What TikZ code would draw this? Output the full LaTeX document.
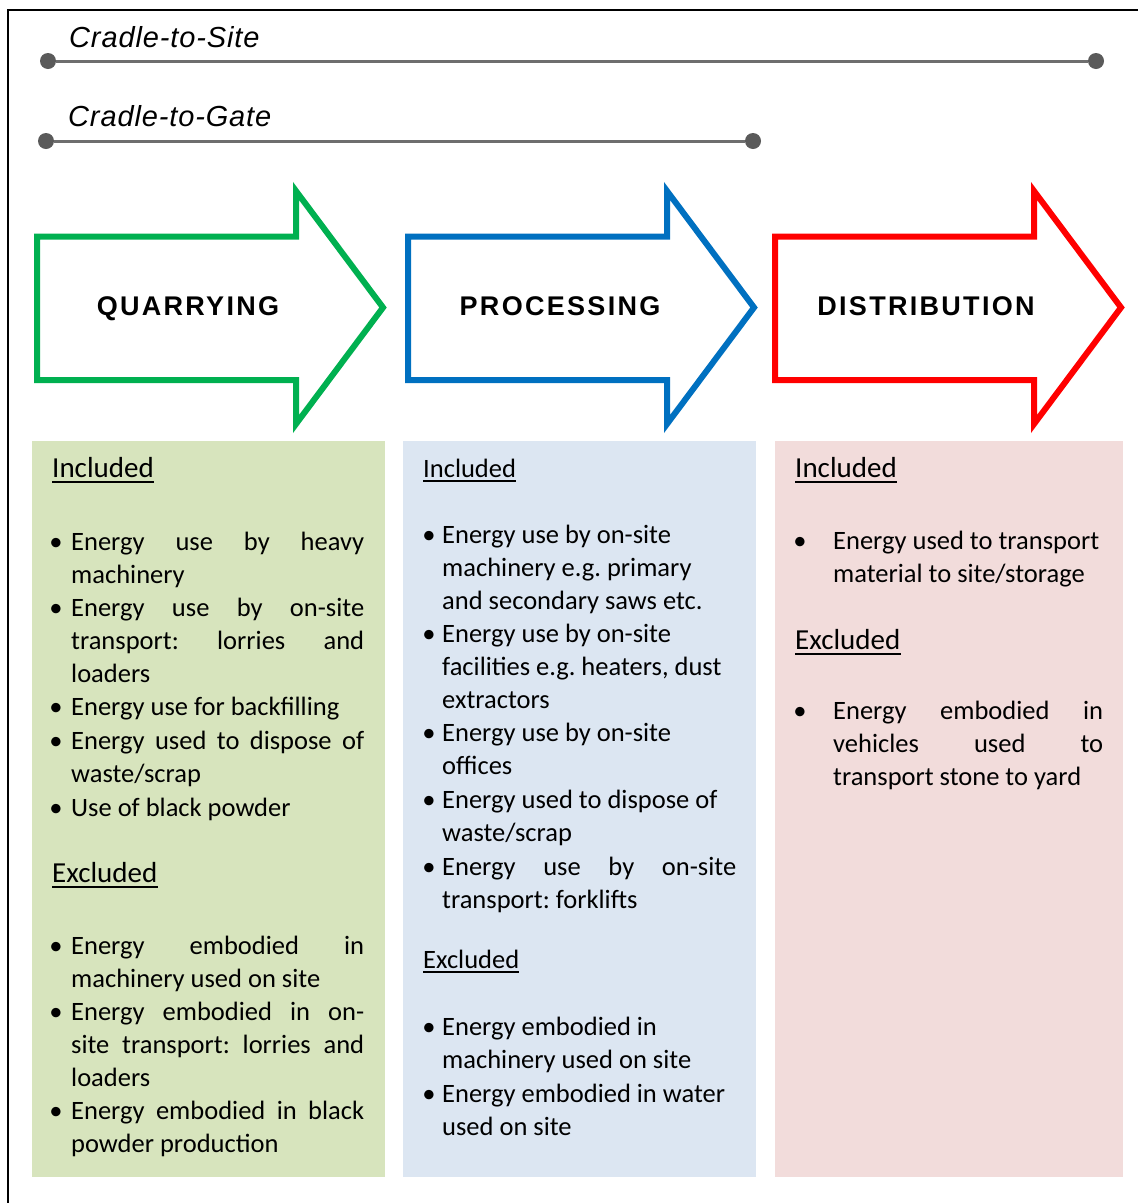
\documentclass[tikz,border=0pt]{standalone}
\usepackage{fontspec}
\setmainfont{Carlito}
\newfontfamily\labfont[LetterSpace=8.5]{Liberation Sans}
\newfontfamily\cradfont[LetterSpace=3]{Liberation Sans Italic}
\usetikzlibrary{calc}
\frenchspacing
\definecolor{qgreen}{HTML}{00B050}
\definecolor{pblue}{HTML}{0070C0}
\definecolor{dred}{HTML}{FF0000}
\definecolor{gpanel}{HTML}{D7E4BD}
\definecolor{bpanel}{HTML}{DCE6F2}
\definecolor{rpanel}{HTML}{F2DCDB}
\definecolor{spanline}{HTML}{6E6E6E}
\definecolor{dotgray}{HTML}{5A5A5A}
\newcommand\J[2]{\hbox to #1pt{#2}}
\newcommand\R[1]{\hbox{#1}}
\newcommand\Lns[1]{\vtop{\baselineskip=33pt\lineskiplimit=-100pt\relax#1}}
\begin{document}
\begin{tikzpicture}[x=1pt,y=-1pt,
  body/.style={font=\fontsize{26.5}{33}\selectfont, inner sep=0pt, anchor=base west},
  bul/.style={font=\fontsize{26.5}{33}\selectfont, inner sep=0pt, anchor=base},
  headA/.style={font=\fontsize{29}{33}\selectfont, inner sep=0pt, anchor=base west},
  headB/.style={font=\fontsize{26.5}{33}\selectfont, inner sep=0pt, anchor=base west},
  uline/.style={line width=2pt},
  stage/.style={line width=6pt, line join=miter, miter limit=10, fill=white},
  stagelabel/.style={font=\labfont\bfseries\fontsize{27}{30}\selectfont, anchor=base, inner sep=0pt},
  span/.style={line width=3pt, draw=spanline},
  dot/.style={circle, fill=dotgray, minimum size=16pt, inner sep=0pt},
  crad/.style={font=\cradfont\fontsize{29}{32}\selectfont, anchor=base west, inner sep=0pt}
]
\useasboundingbox (0,0) rectangle (1138,1203);
\fill[white] (0,0) rectangle (1138,1203);
% outer frame
\draw[line width=2pt] (8,1210) -- (8,10) -- (1145,10);

% spans
\node[crad] (cts) at (69,47.5) {Cradle-to-Site};
\node[dot] (s1) at (48,61) {};
\node[dot] (s2) at (1096,61) {};
\draw[span] (s1) -- (s2);
\node[crad] (ctg) at (68,126) {Cradle-to-Gate};
\node[dot] (t1) at (46,141) {};
\node[dot] (t2) at (753,141) {};
\draw[span] (t1) -- (t2);

% stage arrows
\draw[stage, draw=qgreen] (37,236.5) -- (296,236.5) -- (296,191) -- (383,307.5) -- (296,424) -- (296,380) -- (37,380) -- cycle;
\begin{scope}[shift={(371,0)}]
\draw[stage, draw=pblue] (37,236.5) -- (296,236.5) -- (296,191) -- (383,307.5) -- (296,424) -- (296,380) -- (37,380) -- cycle;
\end{scope}
\begin{scope}[shift={(738,0)}]
\draw[stage, draw=dred] (37,236.5) -- (296,236.5) -- (296,191) -- (383,307.5) -- (296,424) -- (296,380) -- (37,380) -- cycle;
\end{scope}
\node[stagelabel] (lq) at (188,315.5) {QUARRYING};
\node[stagelabel] (lp) at (560,315.5) {PROCESSING};
\node[stagelabel] (ld) at (926,315.5) {DISTRIBUTION};

% panels
\fill[gpanel] (32,441) rectangle (385,1177);
\fill[bpanel] (403,441) rectangle (756,1177);
\fill[rpanel] (775,441) rectangle (1123,1177);

% ---------- green panel ----------
\node[headA] (gI) at (52,477) {Included};
\draw[uline] ($(gI.base west)+(0,4.5)$) -- ($(gI.base east)+(0,4.5)$);
\node[bul] (gb1) at (56,550) {•};
\node[body] (g1) at (71,550) {\Lns{\J{293}{Energy use by heavy}\R{machinery}}};
\node[bul] (gb2) at (56,616) {•};
\node[body] (g2) at (71,616) {\Lns{\J{293}{Energy use by on-site}\J{293}{transport: lorries and}\R{loaders}}};
\node[bul] (gb3) at (56,715) {•};
\node[body] (g3) at (71,715) {\Lns{\R{Energy use for backfilling}}};
\node[bul] (gb4) at (56,749) {•};
\node[body] (g4) at (71,749) {\Lns{\J{293}{Energy used to dispose of}\R{waste/scrap}}};
\node[bul] (gb5) at (56,816) {•};
\node[body] (g5) at (71,816) {\Lns{\R{Use of black powder}}};
\node[headA] (gE) at (52,882) {Excluded};
\draw[uline] ($(gE.base west)+(0,4.5)$) -- ($(gE.base east)+(0,4.5)$);
\node[bul] (gb6) at (56,954) {•};
\node[body] (g6) at (71,954) {\Lns{\J{293}{Energy embodied in}\R{machinery used on site}}};
\node[bul] (gb7) at (56,1020) {•};
\node[body] (g7) at (71,1020) {\Lns{\J{293}{Energy embodied in on-}\J{293}{site transport: lorries and}\R{loaders}}};
\node[bul] (gb8) at (56,1119) {•};
\node[body] (g8) at (71,1119) {\Lns{\J{293}{Energy embodied in black}\R{powder production}}};

% ---------- blue panel ----------
\node[headB] (bI) at (423,477) {Included};
\draw[uline] ($(bI.base west)+(0,4)$) -- ($(bI.base east)+(0,4)$);
\node[bul] (bb1) at (429,543) {•};
\node[body] (b1) at (442,543) {\Lns{\R{Energy use by on-site}\R{machinery e.g. primary}\R{and secondary saws etc.}}};
\node[bul] (bb2) at (429,642) {•};
\node[body] (b2) at (442,642) {\Lns{\R{Energy use by on-site}\R{facilities e.g. heaters, dust}\R{extractors}}};
\node[bul] (bb3) at (429,741) {•};
\node[body] (b3) at (442,741) {\Lns{\R{Energy use by on-site}\R{offices}}};
\node[bul] (bb4) at (429,808) {•};
\node[body] (b4) at (442,808) {\Lns{\R{Energy used to dispose of}\R{waste/scrap}}};
\node[bul] (bb5) at (429,875) {•};
\node[body] (b5) at (442,875) {\Lns{\J{294}{Energy use by on-site}\R{transport: forklifts}}};
\node[headB] (bE) at (423,968) {Excluded};
\draw[uline] ($(bE.base west)+(0,4)$) -- ($(bE.base east)+(0,4)$);
\node[bul] (bb6) at (429,1035) {•};
\node[body] (b6) at (442,1035) {\Lns{\R{Energy embodied in}\R{machinery used on site}}};
\node[bul] (bb7) at (429,1102) {•};
\node[body] (b7) at (442,1102) {\Lns{\R{Energy embodied in water}\R{used on site}}};

% ---------- red panel ----------
\node[headA] (rI) at (795,477) {Included};
\draw[uline] ($(rI.base west)+(0,4.5)$) -- ($(rI.base east)+(0,4.5)$);
\node[bul] (rb1) at (800,549) {•};
\node[body] (r1) at (833,549) {\Lns{\R{Energy used to transport}\R{material to site/storage}}};
\node[headA] (rE) at (795,649) {Excluded};
\draw[uline] ($(rE.base west)+(0,4.5)$) -- ($(rE.base east)+(0,4.5)$);
\node[bul] (rb2) at (800,719) {•};
\node[body] (r2) at (833,719) {\Lns{\J{270}{Energy embodied in}\J{270}{vehicles used to}\R{transport stone to yard}}};
\end{tikzpicture}
\end{document}
